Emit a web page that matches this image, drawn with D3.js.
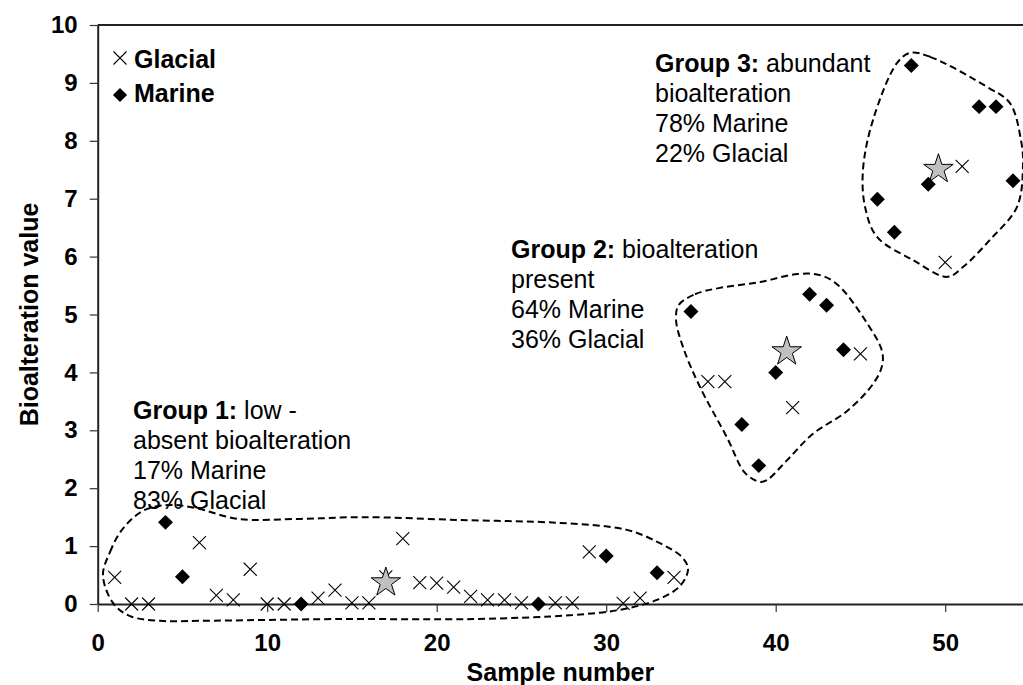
<!DOCTYPE html>
<html>
<head>
<meta charset="utf-8">
<script src="https://cdn.jsdelivr.net/npm/d3@7"></script>
<style>
  body { margin: 0; background: #fff; }
  svg { display: block; font-family: "Liberation Sans", Arial, Helvetica, sans-serif; }
</style>
</head>
<body>
<script>
// Glacial samples (x marks)
const glacialSample = [1, 2, 3, 6, 7, 8, 9, 10, 11, 13, 14, 15, 16, 17, 18, 19, 20, 21, 22, 23, 24, 25, 27, 28, 29, 31, 32, 34, 36, 37, 41, 45, 50, 51];
const glacialValue  = [0.46, 0, 0, 1.06, 0.15, 0.07, 0.6, 0, 0, 0.1, 0.24, 0.02, 0.02, 0.47, 1.13, 0.37, 0.36, 0.29, 0.13, 0.07, 0.07, 0.02, 0.02, 0.02, 0.9, 0.01, 0.1, 0.46, 3.84, 3.84, 3.39, 4.32, 5.9, 7.56];

// Marine samples (diamonds)
const marineSample = [4, 5, 12, 26, 30, 33, 35, 38, 39, 40, 42, 43, 44, 46, 47, 48, 49, 52, 53, 54];
const marineValue  = [1.41, 0.47, 0, 0, 0.83, 0.54, 5.05, 3.1, 2.39, 4.0, 5.35, 5.16, 4.39, 6.99, 6.42, 9.3, 7.25, 8.59, 8.59, 7.31];

// Group centroids (grey stars)
const centroidSample = [17, 40.65, 49.6];
const centroidValue  = [0.37, 4.36, 7.51];

const xTicks = [0, 10, 20, 30, 40, 50];
const yTicks = [0, 1, 2, 3, 4, 5, 6, 7, 8, 9, 10];

// Hand-drawn group outlines, in [sample, value] units
const group1Outline = [[0.31, 0.5], [0.73, 0.9], [1.43, 1.28], [2.67, 1.61], [4.15, 1.71], [5.74, 1.66], [8.28, 1.47], [11.94, 1.47], [15.65, 1.5], [21.37, 1.45], [27.27, 1.4], [31.23, 1.28], [33.17, 1.05], [34.47, 0.81], [34.83, 0.6], [34.35, 0.31], [32.99, 0.07], [30.81, -0.1], [28.04, -0.19], [22.14, -0.26], [14.29, -0.26], [6.04, -0.29], [3.68, -0.29], [1.91, -0.21], [0.9, 0.02]];
const group2Outline = [[34.27, 5.16], [35.24, 5.35], [36.71, 5.46], [39.07, 5.56], [41.3, 5.7], [42.61, 5.68], [43.67, 5.51], [45.39, 4.85], [46.27, 4.37], [46.27, 4.11], [45.74, 3.8], [44.2, 3.33], [42.2, 2.94], [40.66, 2.48], [39.48, 2.14], [39.07, 2.11], [38.2, 2.26], [37.12, 2.88], [35.53, 3.75], [34.53, 4.44], [34.12, 4.91]];
const group3Outline = [[47.93, 9.52], [49.11, 9.45], [52.47, 8.93], [53.82, 8.65], [54.47, 8.01], [54.59, 7.58], [54.24, 6.86], [52.64, 6.29], [51.05, 5.82], [50.11, 5.65], [48.1, 5.94], [45.98, 6.34], [45.27, 6.86], [45.15, 7.5], [45.74, 8.36], [47.15, 9.34]];

const groupTitles = ["Group 1:", "Group 2:", "Group 3:"];
const groupLines = [
    [" low -", "absent bioalteration", "17% Marine", "83% Glacial"],
    [" bioalteration", "present", "64% Marine", "36% Glacial"],
    [" abundant", "bioalteration", "78% Marine", "22% Glacial"]
];
const legendLabels = ["Glacial", "Marine"];

const width = 1023;
const height = 685;

const svg = d3.select("body")
    .append("svg")
    .attr("width", width)
    .attr("height", height);

const x = d3.scaleLinear().domain([0, 55]).range([97.7, 97.7 + 55 * 16.95]);
const y = d3.scaleLinear().domain([0, 10]).range([604, 25]);

// top frame line
svg.append("line")
    .attr("x1", x(0)).attr("x2", x(55))
    .attr("y1", y(10)).attr("y2", y(10))
    .attr("stroke", "#222").attr("stroke-width", 2);

const xAxis = svg.append("g")
    .attr("transform", `translate(0,${y(0)})`)
    .call(d3.axisBottom(x).tickValues(xTicks).tickSize(8).tickSizeOuter(0).tickPadding(22));

const yAxis = svg.append("g")
    .attr("transform", `translate(${x(0)},0)`)
    .call(d3.axisLeft(y).tickValues(yTicks).tickSize(8).tickSizeOuter(0).tickPadding(12));

[xAxis, yAxis].forEach(g => {
    g.select(".domain").attr("stroke", "#222").attr("stroke-width", 2);
    g.selectAll(".tick line").attr("stroke", "#333").attr("stroke-width", 1.2);
    g.selectAll(".tick text")
        .attr("fill", "#000")
        .style("font-family", "'Liberation Sans', Arial, sans-serif")
        .style("font-size", "24px")
        .style("font-weight", "bold");
});

svg.append("text")
    .attr("x", (x(0) + 1023) / 2)
    .attr("y", 681)
    .attr("text-anchor", "middle")
    .style("font-size", "25px")
    .style("font-weight", "bold")
    .text("Sample number");

svg.append("text")
    .attr("transform", `translate(38,${(y(0) + y(10)) / 2}) rotate(-90)`)
    .attr("text-anchor", "middle")
    .style("font-size", "25px")
    .style("font-weight", "bold")
    .text("Bioalteration value");

// dashed group outlines
const outline = d3.line()
    .x(d => x(d[0]))
    .y(d => y(d[1]))
    .curve(d3.curveCatmullRomClosed.alpha(0.5));

svg.append("g")
    .selectAll("path")
    .data([group1Outline, group2Outline, group3Outline])
    .enter()
    .append("path")
    .attr("d", outline)
    .attr("fill", "none")
    .attr("stroke", "#000")
    .attr("stroke-width", 2)
    .attr("stroke-dasharray", "7,4");

const cross = d3.symbol(d3.symbolTimes, 112);
const diamond = d3.symbol(d3.symbolSquare, 112);
const star = d3.symbol(d3.symbolStar, 270);

svg.append("g")
    .selectAll("path")
    .data(glacialSample.map((s, i) => [s, glacialValue[i]]))
    .enter()
    .append("path")
    .attr("transform", d => `translate(${x(d[0])},${y(d[1])})`)
    .attr("d", cross)
    .attr("fill", "none")
    .attr("stroke", "#000")
    .attr("stroke-width", 1.1);

svg.append("g")
    .selectAll("path")
    .data(centroidSample.map((s, i) => [s, centroidValue[i]]))
    .enter()
    .append("path")
    .attr("transform", d => `translate(${x(d[0])},${y(d[1])})`)
    .attr("d", star)
    .attr("fill", "#c0c0c0")
    .attr("stroke", "#000")
    .attr("stroke-width", 1);

svg.append("g")
    .selectAll("path")
    .data(marineSample.map((s, i) => [s, marineValue[i]]))
    .enter()
    .append("path")
    .attr("transform", d => `translate(${x(d[0])},${y(d[1])}) rotate(45)`)
    .attr("d", diamond)
    .attr("fill", "#000");

// legend
const legend = svg.append("g");
legend.append("path")
    .attr("transform", "translate(120,58)")
    .attr("d", cross)
    .attr("fill", "none")
    .attr("stroke", "#000")
    .attr("stroke-width", 1.1);
legend.append("path")
    .attr("transform", "translate(120,95) rotate(45)")
    .attr("d", d3.symbol(d3.symbolSquare, 100))
    .attr("fill", "#000");
legend.selectAll("text")
    .data(legendLabels)
    .enter()
    .append("text")
    .attr("x", 134)
    .attr("y", (d, i) => i === 0 ? 68 : 102)
    .style("font-size", "25px")
    .style("font-weight", "bold")
    .text(d => d);

// group annotations
const notePos = [[133, 419], [511, 258], [655, 72]];
groupTitles.forEach((title, gi) => {
    const t = svg.append("text")
        .attr("x", notePos[gi][0])
        .attr("y", notePos[gi][1])
        .style("font-size", "25px");
    t.append("tspan").style("font-weight", "bold").text(title);
    t.append("tspan").text(groupLines[gi][0]);
    groupLines[gi].slice(1).forEach((line, li) => {
        t.append("tspan")
            .attr("x", notePos[gi][0])
            .attr("y", notePos[gi][1] + 30 * (li + 1))
            .text(line);
    });
});
</script>
</body>
</html>
